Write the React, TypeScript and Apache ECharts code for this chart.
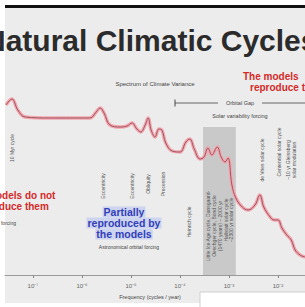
import React, { useEffect, useRef } from "react";
import * as echarts from "echarts";

// log10 of frequency (cycles / year)
const logFreq = [
  -7.55, -7.43, -7.31, -7.16, -6.65, -5.84, -5.71, -5.63, -5.55, -5.43, -5.22, -5.08,
  -4.98, -4.88, -4.8, -4.71, -4.65, -4.59, -4.51, -4.43, -4.37, -4.29, -4.16, -4.0,
  -3.88, -3.8, -3.71, -3.59, -3.51, -3.43, -3.35, -3.24, -3.16, -3.08, -3.02, -2.94,
  -2.86, -2.73, -2.61, -2.47, -2.37, -2.29, -2.16, -2.08, -2.0, -1.92, -1.82, -1.73,
  -1.65, -1.55, -1.45,
];
// relative variance (arbitrary units)
const variance = [
  170, 176, 165, 158, 157, 157, 163, 167, 162, 150, 148, 149,
  152, 146, 143, 150, 157, 145, 138, 146, 145, 132, 124, 123,
  133, 136, 126, 116, 118, 127, 120, 128, 118, 113, 117, 90,
  77, 68, 65, 70, 80, 68, 58, 55, 55, 47, 40, 35,
  25, 20, 18,
];
const tickExponents = [-7, -6, -5, -4, -3, -2];
const shadedBand = [-3.53, -2.86];
const shadedTop = 148;

const sup: Record<string, string> = { "-": "⁻", "0": "⁰", "1": "¹", "2": "²", "3": "³", "4": "⁴", "5": "⁵", "6": "⁶", "7": "⁷", "8": "⁸", "9": "⁹" };
const toSup = (n: number) => String(n).split("").map((c) => sup[c] || c).join("");

const FONT = "Liberation Sans, Arial, sans-serif";

function vText(x: number, y: number, text: string, size = 5, color = "#555") {
  return {
    type: "text",
    x,
    y,
    rotation: Math.PI / 2,
    z: 100,
    style: { text, fontSize: size, fontFamily: FONT, fill: color, align: "center", verticalAlign: "middle" },
  };
}
function hText(x: number, y: number, text: string, size: number, color: string, weight = "normal", align = "center", bg?: string) {
  const style: any = { text, fontSize: size, fontFamily: FONT, fill: color, fontWeight: weight, align, verticalAlign: "middle" };
  if (bg) {
    style.backgroundColor = bg;
    style.padding = [0, 1];
  }
  return { type: "text", x, y, z: 100, style };
}

export default function App() {
  const ref = useRef<HTMLDivElement>(null);
  useEffect(() => {
    document.body.style.margin = "0";
    const chart = echarts.init(ref.current!, null, { renderer: "svg" });
    const curve = logFreq.map((f, i) => [f, variance[i]]);
    chart.setOption({
      animation: false,
      backgroundColor: "#ffffff",
      grid: { left: 5, right: 0, top: 75, bottom: 32 },
      xAxis: {
        type: "value",
        min: -7.571,
        max: -1.449,
        axisLine: { lineStyle: { color: "#9a9a9a", width: 1 } },
        axisTick: { customValues: tickExponents, length: 3, lineStyle: { color: "#888" } },
        axisLabel: {
          customValues: tickExponents,
          formatter: (v: number) => "10" + toSup(Math.round(v)),
          fontSize: 6,
          color: "#666",
          fontFamily: FONT,
          margin: 8,
        },
        splitLine: { show: false },
      },
      yAxis: { type: "value", min: 0, max: 200, show: false, splitLine: { show: false } },
      series: [
        {
          type: "line",
          data: [],
          z: 1,
          markArea: {
            silent: true,
            itemStyle: { color: "#c9c9c9" },
            data: [[{ xAxis: shadedBand[0], yAxis: 0 }, { xAxis: shadedBand[1], yAxis: shadedTop }]],
          },
        },
        {
          type: "line",
          data: curve,
          smooth: 0.4,
          showSymbol: false,
          z: 3,
          lineStyle: { color: "#f3a6ae", width: 3.5 },
        },
        {
          type: "line",
          data: curve,
          smooth: 0.4,
          showSymbol: false,
          z: 4,
          lineStyle: { color: "#9a5662", width: 1 },
        },
      ],
      graphic: [
        { type: "rect", z: -10, shape: { x: 5, y: 8, width: 300, height: 295 }, style: { fill: "#ececec" } },
        { type: "rect", z: -9, shape: { x: 5, y: 5, width: 300, height: 3 }, style: { fill: "#111" } },
        { type: "rect", z: 100, shape: { x: 200, y: 292, width: 106, height: 16 }, style: { fill: "#ffffff", stroke: "#cfcfcf", lineWidth: 1 } },
        {
          type: "text", x: -16, y: 40, z: 100,
          style: { text: "Natural Climatic Cycles", fontSize: 30, fontWeight: "bold", fontFamily: FONT, fill: "#2b2b2b", verticalAlign: "middle" },
        },
        hText(243, 76, "The models", 10, "#d42a2a", "bold", "left"),
        hText(250, 87, "reproduce them", 10, "#d42a2a", "bold", "left"),
        hText(155, 84, "Spectrum of Climate Variance", 6, "#444"),
        { type: "line", z: 100, shape: { x1: 175, y1: 103, x2: 218, y2: 103 }, style: { stroke: "#444", lineWidth: 0.8 } },
        { type: "line", z: 100, shape: { x1: 175, y1: 99.5, x2: 175, y2: 106.5 }, style: { stroke: "#444", lineWidth: 1 } },
        hText(240, 103, "Orbital Gap", 5.5, "#444"),
        { type: "line", z: 100, shape: { x1: 262, y1: 103, x2: 305, y2: 103 }, style: { stroke: "#444", lineWidth: 0.8 } },
        hText(240, 116, "Solar variability forcing", 5.5, "#444"),
        hText(11, 195, "The models do not", 10, "#d42a2a", "bold"),
        hText(11, 206, "reproduce them", 10, "#d42a2a", "bold"),
        hText(16, 223, "Tectonic forcing", 5, "#444", "normal", "right"),
        hText(124, 212, "Partially", 10.5, "#3340b8", "bold", "center", "#ccd4f0"),
        hText(124, 223, "reproduced by", 10.5, "#3340b8", "bold", "center", "#ccd4f0"),
        hText(124, 234, "the models", 10.5, "#3340b8", "bold", "center", "#ccd4f0"),
        hText(129, 247, "Astronomical orbital forcing", 5, "#444"),
        hText(150, 297, "Frequency (cycles / year)", 5.5, "#444"),
        vText(12, 148, "10 Myr cycle"),
        vText(103, 186, "Eccentricity"),
        vText(132, 186, "Eccentricity"),
        vText(148, 184, "Obliquity"),
        vText(163, 184, "Precession"),
        vText(189, 222, "Heinrich cycle"),
        vText(208, 226, "Little Ice Age cycle, Dansgaard-"),
        vText(214, 226, "Oeschger cycle, Bond cycle"),
        vText(220, 226, "(1470 years) ~ 2000 yr"),
        vText(226, 220, "Hallstatt solar cycle"),
        vText(231, 220, "~2300 yr solar cycle"),
        vText(262, 160, "de Vries solar cycle"),
        vText(279, 152, "Centennial solar cycle"),
        vText(288, 160, "~10 yr Gleissberg"),
        vText(294, 160, "solar modulation"),
      ],
    });
    return () => chart.dispose();
  }, []);
  return <div ref={ref} style={{ width: 305, height: 307 }} />;
}
